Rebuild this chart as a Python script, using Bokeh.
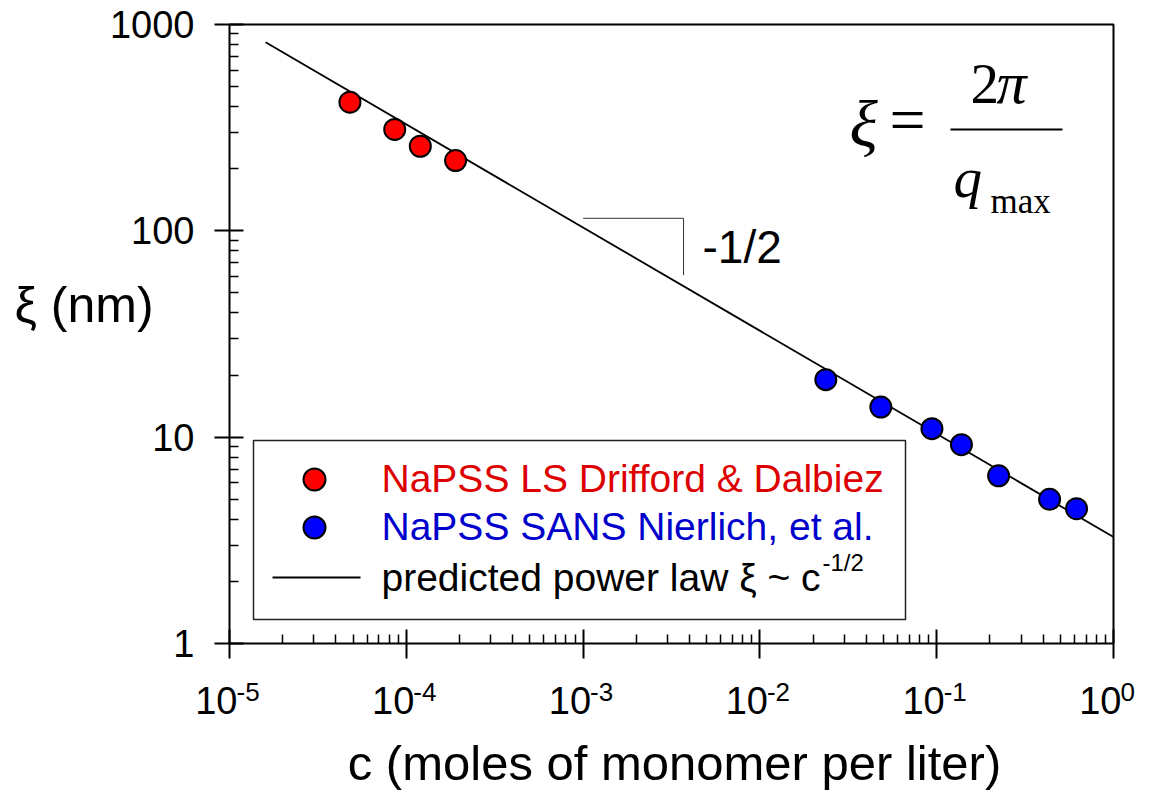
from bokeh.plotting import figure
from bokeh.models import (Label, FixedTicker, PrintfTickFormatter, CustomJSTickFormatter,
                          Range1d, LogAxis)
from bokeh.embed import file_html
from bokeh.resources import INLINE

# ---------------- data ----------------
red_c = [4.8e-5, 8.6e-5, 1.2e-4, 1.9e-4]
red_xi = [420, 310, 257, 219]
blue_c = [0.0236, 0.0483, 0.094, 0.138, 0.224, 0.435, 0.618]
blue_xi = [19.0, 14.0, 11.0, 9.2, 6.5, 5.0, 4.5]
fit_c = [1.6e-5, 1.0]
fit_xi = [820, 3.28]
tri_c = [1.0e-3, 3.7e-3, 3.7e-3]
tri_xi = [115, 115, 61]
x_exponents = [-5, -4, -3, -2, -1, 0]
y_ticks = [1, 10, 100, 1000]
legend_labels = ["NaPSS LS Drifford & Dalbiez", "NaPSS SANS Nierlich, et al.", "predicted power law \u03be ~ c"]
x_title = "c (moles of monomer per liter)"
y_title = "\u03be (nm)"

# ---------------- geometry (pixels) ----------------
W, H = 1149, 795
FX0, FX1, FY0, FY1 = 229, 1113, 24, 643          # visible plot box
XMIN, XMAX, YMIN, YMAX = 1e-5, 1.0, 1.0, 1000.0   # data limits of the box


def px2x(px):
    return 10 ** (-5 + 5 * (px - FX0) / (FX1 - FX0))


def py2y(py):
    return 10 ** (3 * (FY1 - py) / (FY1 - FY0))


SANS = "Liberation Sans"
SERIF = "Liberation Serif"

# the drawing frame covers the whole canvas; axes are pinned to the box edges
p = figure(width=W, height=H, x_axis_type="log", y_axis_type="log",
           x_axis_location=None, y_axis_location=None,
           x_range=Range1d(px2x(0), px2x(W)), y_range=Range1d(py2y(H), py2y(0)),
           output_backend="svg", toolbar_location=None,
           min_border=0, min_border_left=0, min_border_right=0,
           min_border_top=0, min_border_bottom=0)
p.background_fill_color = "white"
p.border_fill_color = "white"
p.outline_line_color = None
p.xgrid.visible = False
p.ygrid.visible = False

x_major = [10.0 ** e for e in x_exponents]
x_minor = [m * 10.0 ** e for e in x_exponents[:-1] for m in range(2, 10)]
y_minor = [m * t for t in y_ticks[:-1] for m in range(2, 10)]

xaxis = LogAxis(fixed_location=YMIN, bounds=(XMIN, XMAX),
                ticker=FixedTicker(ticks=x_major, minor_ticks=x_minor),
                formatter=CustomJSTickFormatter(code="return ''"),
                major_label_text_font_size="1px")
yaxis = LogAxis(fixed_location=XMIN, bounds=(YMIN, YMAX),
                ticker=FixedTicker(ticks=y_ticks, minor_ticks=y_minor),
                formatter=PrintfTickFormatter(format="%d"),
                major_label_text_font=SANS, major_label_text_font_size="38px",
                major_label_text_color="black", major_label_standoff=20)
for ax in (xaxis, yaxis):
    ax.axis_line_width = 2
    ax.axis_line_color = "black"
    ax.major_tick_line_width = 2
    ax.minor_tick_line_width = 1.5
    ax.major_tick_line_color = "black"
    ax.minor_tick_line_color = "black"
    ax.major_tick_in = 14
    ax.major_tick_out = 15
    ax.minor_tick_in = 9
    ax.minor_tick_out = 0
p.add_layout(xaxis, "below")
p.add_layout(yaxis, "left")

# box border (top and right edges)
p.line([XMIN, XMAX, XMAX], [YMAX, YMAX, YMIN], line_color="black", line_width=2)

# ---------------- marks ----------------
p.line(fit_c, fit_xi, line_color="black", line_width=1.8)
p.scatter(red_c, red_xi, size=21, fill_color="#ff0000", line_color="black", line_width=2)
p.scatter(blue_c, blue_xi, size=21, fill_color="#0000ff", line_color="black", line_width=2)
p.line(tri_c, tri_xi, line_color="#333333", line_width=1)


def lab(px, py, text, size, font=SANS, style="normal", color="black", align="left"):
    """py is the text baseline in pixels; the label is placed by its middle."""
    cy = py - 0.35 * size
    p.add_layout(Label(x=px2x(px), y=py2y(cy), text=text, text_font=font,
                       text_font_size=f"{size}px", text_font_style=style,
                       text_color=color, text_align=align, text_baseline="middle"))


# slope label
lab(702, 263, "-1/2", 46)

# ---------------- legend ----------------
p.quad(left=[px2x(253)], right=[px2x(905)], top=[py2y(440)], bottom=[py2y(619)],
       fill_color="white", line_color="#222222", line_width=1.5)
p.scatter([px2x(314)], [py2y(479)], size=22, fill_color="#ff0000", line_color="black", line_width=2)
p.scatter([px2x(314)], [py2y(527)], size=22, fill_color="#0000ff", line_color="black", line_width=2)
p.line([px2x(272), px2x(360)], [py2y(577), py2y(577)], line_color="black", line_width=1.8)
lab(381, 492, legend_labels[0], 39, color="#dd0000")
lab(381, 540, legend_labels[1], 39, color="#0000cc")
lab(381, 591, legend_labels[2], 39)
lab(822, 570, "-1/2", 24)

# ---------------- formula ----------------
lab(849, 146, "\u03be", 66, font=SERIF, style="italic")
lab(889, 141, "=", 64, font=SERIF)
p.segment(x0=[px2x(950)], x1=[px2x(1062)], y0=[py2y(129)], y1=[py2y(129)],
          line_color="black", line_width=2)
lab(970, 103, "2", 57, font=SERIF)
lab(996, 103, "\u03c0", 60, font=SERIF, style="italic")
lab(953, 197, "q", 57, font=SERIF, style="italic")
lab(990, 213, "max", 35, font=SERIF)

# ---------------- axis texts ----------------
for e in x_exponents:
    px = FX0 + (FX1 - FX0) * (e + 5) / 5
    lab(px + 8, 713, "10", 38, align="right")
    lab(px + 7, 701, str(e), 26)

lab(674, 780, x_title, 49, align="center")
lab(14, 322, y_title, 50)

open("out.html", "w").write(file_html(p, INLINE))
